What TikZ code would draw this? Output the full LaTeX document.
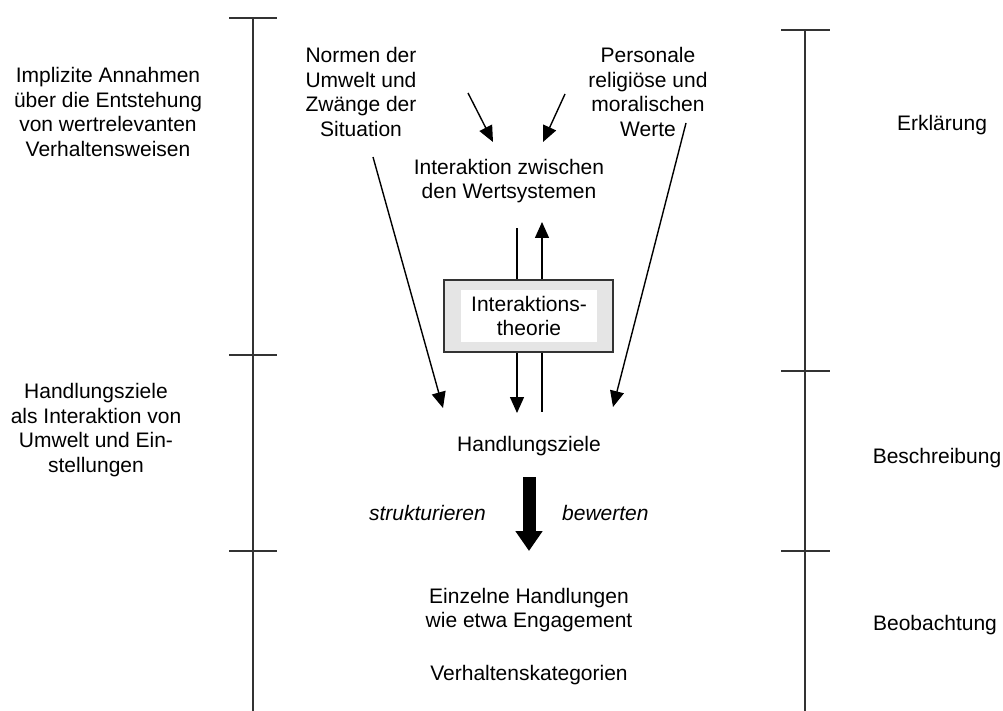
\documentclass[tikz,border=0pt]{standalone}
\usepackage{fontspec}
\setmainfont{Liberation Sans}
\usetikzlibrary{arrows.meta}
\tikzstyle{txt} = [inner sep=0pt, 
align=center, 
font=\fontsize{21}{24.5}\selectfont]
\tikzstyle{txtit} = [txt, 
font=\fontsize{21}{24.5}\selectfont\itshape]
\tikzstyle{ruler} = [line width=2pt, draw=black!80]
\tikzstyle{outerbox} = [rectangle, 
minimum width=169pt, 
minimum height=72pt, 
draw=black!80, 
line width=1.5pt, 
fill=black!10]
\tikzstyle{innerbox} = [txt, rectangle, 
minimum width=136pt, 
minimum height=52pt, 
fill=white]
\tikzstyle{arrow} = [line width=1.4pt,-{Triangle[length=16pt,width=14pt]}]
\tikzstyle{plain} = [line width=1.4pt]
\tikzstyle{bigarrow} = [line width=13pt,-{Triangle[length=20pt,width=26pt]}]

\begin{document}
\begin{tikzpicture}[x=1pt,y=-1pt]
\useasboundingbox (0,0) rectangle (1003,711);

% levels left and right
\draw [ruler] (253,18) -- (253,711);
\foreach \y in {18,355,551}
  \draw [ruler] (229,\y) -- (277,\y);
\draw [ruler] (805,30) -- (805,711);
\foreach \y in {30,371,551}
  \draw [ruler] (781,\y) -- (830,\y);

\node (impl) [txt] at (108,112) {Implizite Annahmen\\ \"uber die Entstehung\\ von wertrelevanten\\ Verhaltensweisen};
\node (hzleft) [txt] at (96,430) {Handlungsziele\\ als Interaktion von\\ Umwelt und Ein-\\ stellungen};
\node (erkl) [txt] at (942,125) {Erkl\"arung};
\node (beschr) [txt] at (937,458) {Beschreibung};
\node (beob) [txt] at (935,625) {Beobachtung};

\node (normen) [txt] at (361,92) {Normen der\\ Umwelt und\\ Zw\"ange der\\ Situation};
\node (werte) [txt] at (648,92) {Personale\\ religi\"ose und\\ moralischen\\ Werte};
\node (inter) [txt] at (509,181) {Interaktion zwischen\\ den Wertsystemen};

\node (box) [outerbox] at (528.5,316) {};
\node (theo) [innerbox] at (529,316) {Interaktions-\\ theorie};

\node (ziele) [txt] at (529,446) {Handlungsziele};
\node (strukt) [txtit, anchor=east] at (486,513) {strukturieren};
\node (bew) [txtit, anchor=west] at (562,513) {bewerten};
\node (einz) [txt] at (529,610) {Einzelne Handlungen\\ wie etwa Engagement};
\node (kat) [txt] at (529,675) {Verhaltenskategorien};

\coordinate (nA) at (468,93);
\coordinate (nB) at (493,142);
\coordinate (pA) at (565,94);
\coordinate (pB) at (543,142);
\coordinate (nC) at (373,157);
\coordinate (nD) at (443,408);
\coordinate (pC) at (686,123);
\coordinate (pD) at (613,407);
\coordinate (upA) at (517,228);
\coordinate (upB) at (542,222);
\coordinate (dnA) at (517,413);
\coordinate (dnB) at (542,412);

\draw [arrow] (nA) -- (nB);
\draw [arrow] (pA) -- (pB);
\draw [arrow] (nC) -- (nD);
\draw [arrow] (pC) -- (pD);
\draw [plain] (upA |- box.north) -- (upA);
\draw [arrow] (upB |- box.north) -- (upB);
\draw [arrow] (dnA |- box.south) -- (dnA);
\draw [plain] (dnB |- box.south) -- (dnB);
\draw [bigarrow] (529,477) -- (529,551);

\end{tikzpicture}
\end{document}
